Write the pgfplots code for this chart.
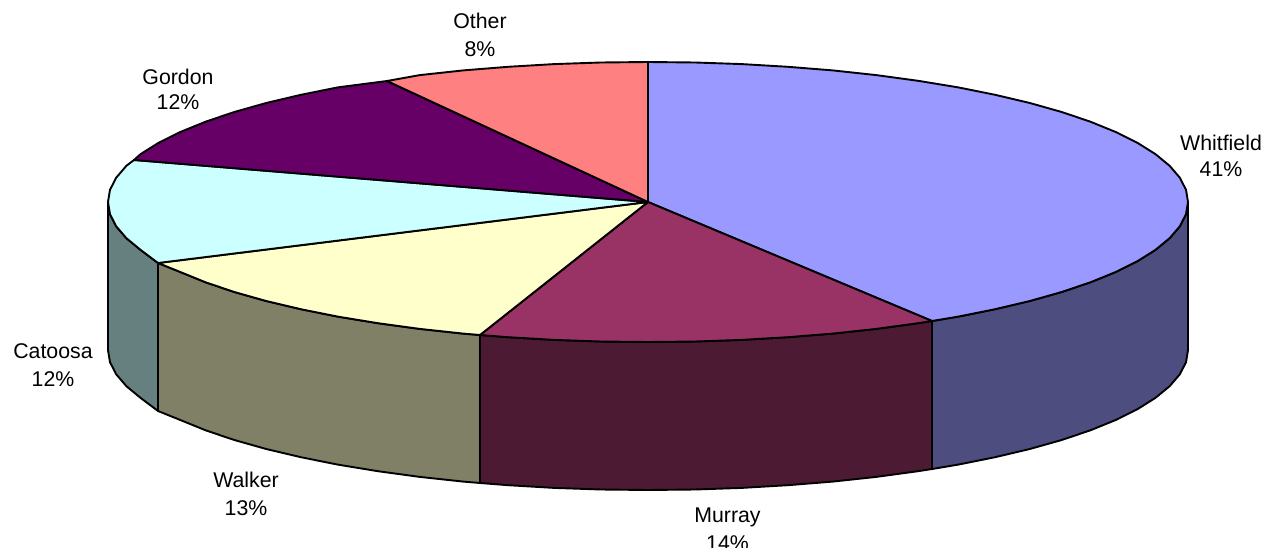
\documentclass[border=0pt]{standalone}
\usepackage{pgfplots}
\pgfplotsset{compat=1.18}
\usepackage{fontspec}
\setmainfont{Liberation Sans}
\definecolor{cWt}{HTML}{9999FF}\definecolor{cWs}{HTML}{4D4D80}
\definecolor{cMt}{HTML}{993366}\definecolor{cMs}{HTML}{4D1A33}
\definecolor{cLt}{HTML}{FFFFCC}\definecolor{cLs}{HTML}{808066}
\definecolor{cCt}{HTML}{CCFFFF}\definecolor{cCs}{HTML}{668080}
\definecolor{cGt}{HTML}{660066}\definecolor{cOt}{HTML}{FF8080}
\begin{document}
\begin{tikzpicture}
\useasboundingbox (0,0) rectangle (1265pt,548pt);
\begin{axis}[
  at={(0,0)},anchor=south west,
  scale only axis,width=1265pt,height=548pt,
  xmin=0,xmax=1265,ymin=0,ymax=548,y dir=reverse,
  hide axis,clip=false,no markers,
  every axis plot/.append style={draw=black,line width=1.9pt,line join=round},
]
% sides
\addplot[fill=cWs] coordinates {(1188,202)(1186,214.2)(1179.8,226.3)(1169.6,238.2)(1155.4,249.9)(1137.4,261.2)(1115.7,272)(1090.4,282.3)(1061.7,292)(1029.8,301)(995.1,309.2)(957.7,316.7)(932,321)(932,469)(957.7,464.7)(995.1,457.2)(1029.8,449)(1061.7,440)(1090.4,430.3)(1115.7,420)(1137.4,409.2)(1155.4,397.9)(1169.6,386.2)(1179.8,374.3)(1186,362.2)(1188,350)} --cycle;
\addplot[fill=cMs] coordinates {(932,321)(918,323.2)(876.2,328.9)(832.7,333.6)(787.8,337.2)(741.8,339.9)(695.1,341.5)(648,342)(600.9,341.5)(554.2,339.9)(508.2,337.2)(480,335)(480,483)(508.2,485.2)(554.2,487.9)(600.9,489.5)(648,490)(695.1,489.5)(741.8,487.9)(787.8,485.2)(832.7,481.6)(876.2,476.9)(918,471.2)(932,469)} --cycle;
\addplot[fill=cLs] coordinates {(480,335)(463.3,333.6)(419.8,328.9)(378,323.2)(338.3,316.7)(300.9,309.2)(266.2,301)(234.3,292)(205.6,282.3)(180.3,272)(158,263)(158,411)(180.3,420)(205.6,430.3)(234.3,440)(266.2,449)(300.9,457.2)(338.3,464.7)(378,471.2)(419.8,476.9)(463.3,481.6)(480,483)} --cycle;
\addplot[fill=cCs] coordinates {(158,263)(140.6,249.9)(126.4,238.2)(116.2,226.3)(110,214.2)(108,202)(108,350)(110,362.2)(116.2,374.3)(126.4,386.2)(140.6,397.9)(158,411)} --cycle;
% top wedges
\addplot[fill=cWt] coordinates {(648,202)(648,62)(695.1,62.5)(741.8,64.1)(787.8,66.8)(832.7,70.4)(876.2,75.1)(918,80.8)(957.7,87.3)(995.1,94.8)(1029.8,103)(1061.7,112)(1090.4,121.7)(1115.7,132)(1137.4,142.8)(1155.4,154.1)(1169.6,165.8)(1179.8,177.7)(1186,189.8)(1188,202)(1186,214.2)(1179.8,226.3)(1169.6,238.2)(1155.4,249.9)(1137.4,261.2)(1115.7,272)(1090.4,282.3)(1061.7,292)(1029.8,301)(995.1,309.2)(957.7,316.7)(932,321)} --cycle;
\addplot[fill=cMt] coordinates {(648,202)(932,321)(918,323.2)(876.2,328.9)(832.7,333.6)(787.8,337.2)(741.8,339.9)(695.1,341.5)(648,342)(600.9,341.5)(554.2,339.9)(508.2,337.2)(480,335)} --cycle;
\addplot[fill=cLt] coordinates {(648,202)(480,335)(463.3,333.6)(419.8,328.9)(378,323.2)(338.3,316.7)(300.9,309.2)(266.2,301)(234.3,292)(205.6,282.3)(180.3,272)(158,263)} --cycle;
\addplot[fill=cCt] coordinates {(648,202)(158,263)(140.6,249.9)(126.4,238.2)(116.2,226.3)(110,214.2)(108,202)(110,189.8)(116.2,177.7)(126.4,165.8)(134,160)} --cycle;
\addplot[fill=cGt] coordinates {(648,202)(134,160)(140.6,154.1)(158.6,142.8)(180.3,132)(205.6,121.7)(234.3,112)(266.2,103)(300.9,94.8)(338.3,87.3)(387,81)} --cycle;
\addplot[fill=cOt] coordinates {(648,202)(387,81)(419.8,75.1)(463.3,70.4)(508.2,66.8)(554.2,64.1)(600.9,62.5)(648,62)} --cycle;
% labels
\tikzset{lab/.style={font=\fontsize{21.3}{25}\selectfont,anchor=base,text=black,inner sep=0pt}}
\node[lab] at (axis cs:1221,151) {Whitfield};
\node[lab] at (axis cs:1221,177) {41\%};
\node[lab] at (axis cs:480,29) {Other};
\node[lab] at (axis cs:480,57) {8\%};
\node[lab] at (axis cs:178,85) {Gordon};
\node[lab] at (axis cs:178,110) {12\%};
\node[lab] at (axis cs:53,358) {Catoosa};
\node[lab] at (axis cs:53,386) {12\%};
\node[lab] at (axis cs:246,487) {Walker};
\node[lab] at (axis cs:246,515) {13\%};
\node[lab] at (axis cs:727.5,522) {Murray};
\node[lab] at (axis cs:727.5,550) {14\%};
\end{axis}
\end{tikzpicture}
\end{document}
